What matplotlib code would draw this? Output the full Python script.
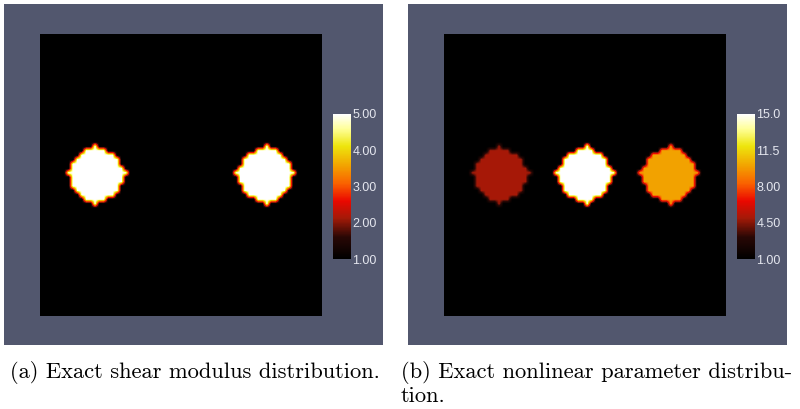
import numpy as np
import matplotlib
matplotlib.use("Agg")
import matplotlib.pyplot as plt
from matplotlib.colors import LinearSegmentedColormap

# inclusion data (domain is the unit square)
background = 1.0
shear_cx = [0.2, 0.8]
shear_cy = [0.5, 0.5]
shear_val = [5.0, 5.0]
nonlin_cx = [0.2, 0.5, 0.8]
nonlin_cy = [0.5, 0.5, 0.5]
nonlin_val = [5.0, 15.0, 10.0]
radius = 0.094

shear_ticks = [1.0, 2.0, 3.0, 4.0, 5.0]
shear_labels = ["1.00", "2.00", "3.00", "4.00", "5.00"]
nonlin_ticks = [1.0, 4.5, 8.0, 11.5, 15.0]
nonlin_labels = ["1.00", "4.50", "8.00", "11.5", "15.0"]

caption_a = "(a) Exact shear modulus distribution."
caption_b = ["(b) Exact nonlinear parameter distribu-", "tion."]

# black body style map
cmap = LinearSegmentedColormap.from_list("blackbody", [
    (0.00, (0.0, 0.0, 0.0)),
    (0.15, (0.16, 0.03, 0.02)),
    (0.28, (0.64, 0.10, 0.03)),
    (0.40, (0.92, 0.03, 0.0)),
    (0.52, (0.98, 0.38, 0.0)),
    (0.64, (0.95, 0.63, 0.0)),
    (0.78, (0.93, 0.90, 0.05)),
    (0.90, (1.0, 1.0, 0.6)),
    (1.00, (1.0, 1.0, 1.0)),
])

bg = "#52576e"
N = 64


def field(cx, cy, vals):
    c = (np.arange(N) + 0.5) / N
    X, Y = np.meshgrid(c, c)
    f = np.full((N, N), background)
    for x0, y0, v in zip(cx, cy, vals):
        m = (X - x0) ** 2 + (Y - y0) ** 2 <= radius ** 2
        f[m] = v
        # little mesh spikes at the compass points
        i0 = int(x0 * N)
        j0 = int(y0 * N)
        cols = np.where(m[j0])[0]
        rows = np.where(m[:, i0])[0]
        f[j0, cols.max() + 1] = v
        f[j0, cols.min() - 1] = v
        f[rows.max() + 1, i0] = v
        f[rows.min() - 1, i0] = v
    return f


fig = plt.figure(figsize=(8, 4.09), dpi=100)
W, H = 800, 409


def box(x, y, w, h):
    # pixel box (top-left origin) -> figure fraction
    return [x / W, 1 - (y + h) / H, w / W, h / H]


panels = [
    (4, field(shear_cx, shear_cy, shear_val), 5.0, shear_ticks, shear_labels),
    (408, field(nonlin_cx, nonlin_cy, nonlin_val), 15.0, nonlin_ticks, nonlin_labels),
]

for x0, f, vmax, ticks, labels in panels:
    bax = fig.add_axes(box(x0, 4, 379, 341))
    bax.set_facecolor(bg)
    bax.set_xticks([])
    bax.set_yticks([])
    for s in bax.spines.values():
        s.set_visible(False)

    ax = fig.add_axes(box(x0 + 36, 34, 282, 282))
    im = ax.imshow(f, origin="lower", extent=[0, 1, 0, 1], cmap=cmap,
                   vmin=1.0, vmax=vmax, interpolation="bilinear", aspect="auto")
    ax.set_axis_off()

    cax = fig.add_axes(box(x0 + 329, 114, 18, 145))
    cb = fig.colorbar(im, cax=cax, ticks=ticks)
    cb.set_ticklabels(labels)
    cb.outline.set_visible(False)
    cax.tick_params(length=0, pad=1, labelsize=9, labelcolor="#e4e6ee")
    for t in cax.get_yticklabels():
        t.set_fontfamily("Liberation Sans")
        t.set_verticalalignment("center_baseline")

fig.text(10 / W, 1 - 378 / H, caption_a, fontfamily="cmr10", fontsize=16.2,
         va="baseline", ha="left")
fig.text(401 / W, 1 - 378 / H, caption_b[0], fontfamily="cmr10", fontsize=16.2,
         va="baseline", ha="left")
fig.text(401 / W, 1 - 402 / H, caption_b[1], fontfamily="cmr10", fontsize=16.2,
         va="baseline", ha="left")

fig.savefig("out.png", dpi=100)
